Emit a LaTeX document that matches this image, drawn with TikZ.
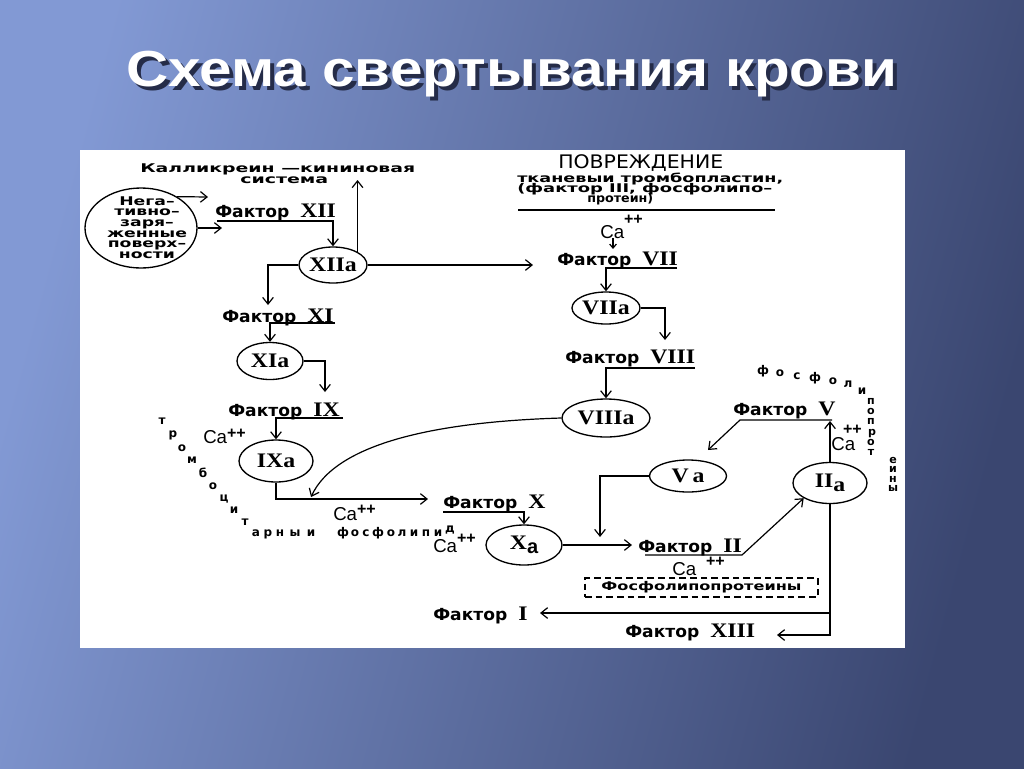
\documentclass[tikz,border=0pt]{standalone}
\usepackage{fontspec}
\usepackage{graphicx}
\setmainfont{Liberation Serif}
\newfontfamily\dvs{DejaVu Sans}
\newfontfamily\lsans{Liberation Sans}
\newfontfamily\lserif{Liberation Serif}
\usetikzlibrary{shapes.geometric,arrows.meta,calc}
\newlength\pxu \setlength\pxu{0.75pt}
\definecolor{bgL}{HTML}{8299D4}
\definecolor{bgR}{HTML}{3A4670}
\definecolor{shad}{HTML}{252C48}
\newcommand\fak{\resizebox{74\pxu}{\height}{\dvs\bfseries\fontsize{12.5}{12.5}\selectfont Фактор}}
\newcommand\rn[1]{\scalebox{1.15}[1]{\lserif\bfseries\fontsize{15.5}{15.5}\selectfont #1}}
\newcommand\fk[1]{\fak\hspace{11\pxu}\rn{#1}}
\newcommand\pix[2]{\resizebox{#1\pxu}{\height}{\dvs\bfseries\fontsize{9}{9}\selectfont #2}}
\newcommand\cpp[2]{{\lsans\fontsize{14}{14}\selectfont Ca\kern#2\raisebox{#1}{\bfseries\fontsize{12}{12}\selectfont ++}}}
\newcommand\ttl{Схема свертывания крови}
\begin{document}
\begin{tikzpicture}[x=0.75pt,y=-0.75pt,
  ln/.style={line width=0.9pt},
  arr/.style={ln,-{Straight Barb[length=5pt,width=8pt]}},
  arrs/.style={ln,-{Straight Barb[length=3pt,width=5pt]}},
  ell/.style 2 args={draw, ellipse, line width=1pt, minimum width=#1*0.75pt, minimum height=#2*0.75pt, inner sep=0pt},
  lab/.style={inner sep=0pt, anchor=base west},
  lett/.style={inner sep=0pt, anchor=base, font=\dvs\bfseries\fontsize{9}{9}\selectfont},
  letts/.style={inner sep=0pt, anchor=base, font=\dvs\bfseries\fontsize{8.3}{8.3}\selectfont}]
\useasboundingbox (0,0) rectangle (1024,768);
\shade[left color=bgL, right color=bgR, shading angle=75] (0,0) rectangle (1024,768);
\fill[white] (80,150) rectangle (905,648);
% title
\node[anchor=base, inner sep=0pt, font=\lsans\bfseries\fontsize{38}{38}\selectfont] (title) at (512,86)
  {\resizebox{771\pxu}{\height}{\rlap{\kern2.5pt\raisebox{-3pt}{\color{shad}\ttl}}\color{white}\ttl}};
% ellipses
\node[ell={112}{80}] (neg) at (141,228) {};
\node[inner sep=0pt] (negt) at (147,229) {\resizebox{80\pxu}{\height}{\dvs\bfseries\fontsize{9}{7.9}\selectfont\begin{tabular}{@{}c@{}}Нега–\\тивно–\\заря–\\женные\\поверх–\\ности\end{tabular}}};
\node[ell={68}{36}, label=center:{\rn{XIIa}}] (XIIa) at (333,265) {};
\node[ell={66}{37}, label=center:{\rn{XIa}}] (XIa) at (270,361) {};
\node[ell={74}{42}, label=center:{\rn{IXa}}] (IXa) at (276,461) {};
\node[ell={76}{40}, label=center:{\rn{X}\raisebox{-3pt}{\lsans\bfseries\fontsize{15}{15}\selectfont a}}] (Xa) at (524,545) {};
\node[ell={68}{32}, label=center:{\rn{VIIa}}] (VIIa) at (606,308) {};
\node[ell={88}{38}, label=center:{\rn{VIIIa}}] (VIIIa) at (606,418) {};
\node[ell={77}{32}, label=center:{\rn{V\,a}}] (Va) at (688,476) {};
\node[ell={74}{41}, label=center:{\rn{II\raisebox{-3pt}{a}}}] (IIa) at (830,483) {};
% texts
\node[lab] (kal) at (140,172) {\pix{275}{Калликреин —кининовая}};
\node[lab] (sys) at (240,183) {\pix{88}{система}};
\node[lab, font=\dvs\fontsize{14}{14}\selectfont] (pov) at (558,168) {\resizebox{165\pxu}{\height}{ПОВРЕЖДЕНИЕ}};
\node[lab] (tk1) at (517,182) {\pix{266}{тканевыи тромбопластин,}};
\node[lab] (tk2) at (517,192) {\pix{255}{(фактор III, фосфолипо–}};
\node[lab] (tk3) at (587,202) {\pix{66}{протеин)}};
\node[lab] (ca7) at (600,238) {\cpp{10.5pt}{0pt}};
\node[lab] (caIX) at (203,443) {\cpp{3.3pt}{0pt}};
\node[lab] (caX1) at (333,520) {\cpp{4pt}{0pt}};
\node[lab] (caXa) at (433,552) {\cpp{6.3pt}{0pt}};
\node[lab] (caII) at (672,575) {\cpp{6.3pt}{7.5pt}};
\node[lab] (caIIa) at (831,450) {\cpp{11.5pt}{-9pt}};
\node[lab] (fXII) at (215,217) {\fk{XII}};
\node[lab] (fXI) at (222,322) {\fk{XI}};
\node[lab] (fIX) at (228,416) {\fk{IX}};
\node[lab] (fX) at (443,508) {\fk{X}};
\node[lab] (fII) at (638,552) {\fk{II}};
\node[lab] (fI) at (433,620) {\fk{I}};
\node[lab] (fXIII) at (625,637) {\fk{XIII}};
\node[lab] (fV) at (733,415) {\fk{V}};
\node[lab] (fVII) at (557,265) {\fk{VII}};
\node[lab] (fVIII) at (565,363) {\fk{VIII}};
\node[draw, dash pattern=on 5pt off 3pt, line width=0.8pt, minimum width=233*0.75pt, minimum height=19*0.75pt, inner sep=0pt] (ff) at (701.5,587.5) {\pix{200}{Фосфолипопротеины}};
% arc letters
\foreach \c/\x/\y in {т/162/424, р/173/437, о/182/451, м/192/463, б/203/477, о/213/489, ц/224/501, и/234/513, т/245/525, а/256/536, р/268/536, н/280/536, ы/295/536, и/311/536, ф/343/536, о/355/536, с/366/536, ф/378/536, о/391/536, л/402/536, и/414/536, п/426/536, и/438/536, д/450/532}
  \node[lett] at (\x,\y) {\c};
\foreach \c/\x/\y in {ф/763/374, о/780/376, с/797/379, ф/815/381, о/833/384, л/848/387, и/862/394}
  \node[lett] at (\x,\y) {\c};
\foreach \c/\x/\y in {п/871/404, о/871/414, п/871/424.5, р/872/435, о/871/445, т/871/455, е/893/463, и/893/472.5, н/893/482, ы/893/491.5}
  \node[letts] at (\x,\y) {\c};
% connectors
\coordinate (k1) at (208,197);
\draw[arr] (neg.41) -- (k1);
\coordinate (k2) at (222,228);
\draw[arr] (neg.east) -- (k2);
\coordinate (u12) at (217,221);
\draw[arr] (u12) -| (XIIa.north);
\coordinate (k3) at (350,180);
\draw[arr] (XIIa.north east) -- (XIIa.north east |- k3);
\coordinate (k4) at (533,265);
\draw[arr] (XIIa.east) -- (k4);
\coordinate (k5) at (268,305);
\draw[arr] (XIIa.west) -| (k5);
\coordinate (u11) at (335,323);
\draw[arr] (u11) -| (XIa.north);
\coordinate (k6) at (325,392);
\draw[arr] (XIa.east) -| (k6);
\coordinate (u9) at (343,418);
\draw[arr] (u9) -| (IXa.north);
\coordinate (k7) at (428,499);
\draw[arr] (IXa.south) |- (k7);
\coordinate (k8) at (311,497);
\draw[arr] (VIIIa.west) .. controls (430,422) and (335,445) .. (k8);
\coordinate (u10) at (443,512);
\draw[arr] (u10) -| (Xa.north);
\coordinate (k9) at (632,545);
\draw[arr] (Xa.east) -- (k9);
\coordinate (k10) at (600,537);
\draw[arr] (Va.west) -| (k10);
\coordinate (u2) at (645,555);
\coordinate (u2r) at (742,555);
\draw[arr] (u2) -- (u2r) -- (IIa.210);
\coordinate (k11) at (830,421);
\draw[arr] (IIa.north) -- (k11);
\coordinate (u5r) at (832,420);
\coordinate (u5l) at (740,420);
\coordinate (k12) at (708,450);
\draw[arr] (u5r) -- (u5l) -- (k12);
\coordinate (k13) at (777,635);
\coordinate (k14) at (540,613);
\draw[arr] (IIa.south) |- (k13);
\draw[arr] (IIa.south) |- (k14);
\coordinate (fl1) at (518,210);
\coordinate (fl2) at (775,210);
\draw[ln] (fl1) -- (fl2);
\coordinate (k16) at (613,249);
\draw[arrs] (k16 |- ca7.south) -- (k16);
\coordinate (u7) at (677,268);
\draw[arr] (u7) -| (VIIa.north);
\coordinate (k15) at (665,340);
\draw[arr] (VIIa.east) -| (k15);
\coordinate (u8) at (695,368);
\draw[arr] (u8) -| (VIIIa.north);
\end{tikzpicture}
\end{document}
